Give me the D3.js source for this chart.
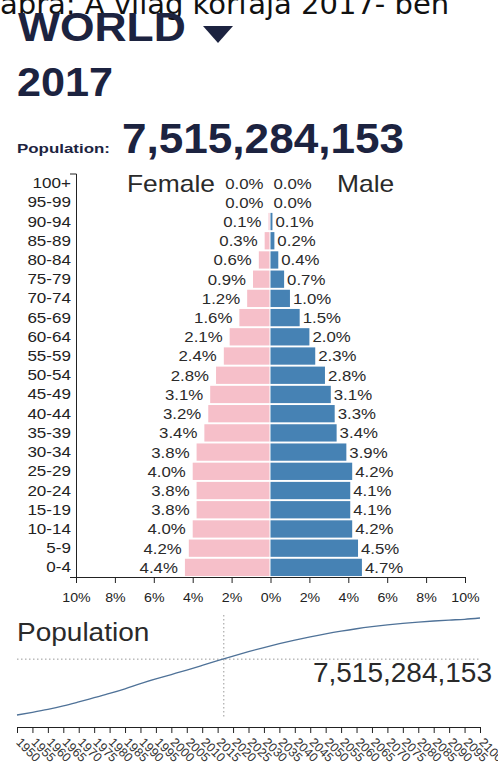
<!DOCTYPE html>
<html><head><meta charset="utf-8">
<script src="https://cdn.jsdelivr.net/npm/d3@7"></script>
<style>
html,body{margin:0;padding:0;background:#fff;overflow:hidden;}
svg{display:block;}
text{font-family:"Liberation Sans",Arial,Helvetica,sans-serif;}
</style></head>
<body>
<svg id="c" width="498" height="771"></svg>
<script>
// ---- data ----
const ageGroups = ["100+","95-99","90-94","85-89","80-84","75-79","70-74","65-69","60-64","55-59","50-54","45-49","40-44","35-39","30-34","25-29","20-24","15-19","10-14","5-9","0-4"];
const femalePct = [0.0,0.0,0.1,0.3,0.6,0.9,1.2,1.6,2.1,2.4,2.8,3.1,3.2,3.4,3.8,4.0,3.8,3.8,4.0,4.2,4.4];
const malePct   = [0.0,0.0,0.1,0.2,0.4,0.7,1.0,1.5,2.0,2.3,2.8,3.1,3.3,3.4,3.9,4.2,4.1,4.1,4.2,4.5,4.7];
const pctTicks = [-10,-8,-6,-4,-2,0,2,4,6,8,10];
const years = [1950,1955,1960,1965,1970,1975,1980,1985,1990,1995,2000,2005,2010,2015,2020,2025,2030,2035,2040,2045,2050,2055,2060,2065,2070,2075,2080,2085,2090,2095,2100];
const popMillions = [2536,2773,3035,3340,3700,4079,4458,4871,5331,5751,6145,6542,6958,7383,7795,8184,8551,8893,9210,9504,9772,10012,10224,10407,10569,10706,10821,10917,11000,11070,11184];
const currentYear = 2017;
const currentPop = 7515284153;
const regionName = "WORLD";
const caption = "ábra: A világ korfája 2017- ben";

const navy = "#1c2340", txt = "#2a2a2a";
const svg = d3.select("#c");

function fit(sel, k){
  sel.each(function(){
    const w = this.getComputedTextLength();
    d3.select(this).attr("textLength", w*k).attr("lengthAdjust","spacingAndGlyphs");
  });
  return sel;
}

// caption (cut at top)
svg.append("text").attr("x",0).attr("y",13.5)
  .style("font-family","'DejaVu Sans',sans-serif").style("font-size","29px").attr("fill","#111")
  .text(caption);

// title
const wt = svg.append("text").attr("x",18).attr("y",41)
  .style("font-size","40px").style("font-weight","bold").attr("fill",navy).text(regionName);
fit(wt, 1.11);
svg.append("path").attr("d","M203,26 L233,26 L218,43 Z").attr("fill",navy);

const yt = svg.append("text").attr("x",17).attr("y",96)
  .style("font-size","40px").style("font-weight","bold").attr("fill",navy).text(String(currentYear));
fit(yt, 1.08);

const pl = svg.append("text").attr("x",17).attr("y",153)
  .style("font-size","13px").style("font-weight","bold").attr("fill",navy).text("Population:");
fit(pl, 1.3);
const bn = svg.append("text").attr("x",122).attr("y",152.5)
  .style("font-size","42px").style("font-weight","bold").attr("fill",navy).text(d3.format(",")(currentPop));
fit(bn, 1.05);

// ---- pyramid ----
const x = d3.scaleLinear().domain([-10,10]).range([76,465]);
const y = d3.scaleBand().domain(ageGroups).range([173.5,577]).paddingInner(0.1).paddingOuter(0.05);
const fmt = d3.format(".1f");

const g = svg.append("g");
g.selectAll("rect.f").data(ageGroups).join("rect").attr("class","f")
  .attr("x",(d,i)=>x(-femalePct[i])).attr("width",(d,i)=>Math.max(0,x(0)-1-x(-femalePct[i])))
  .attr("y",d=>y(d)).attr("height",y.bandwidth()).attr("fill","#f6bfc9");
g.selectAll("rect.m").data(ageGroups).join("rect").attr("class","m")
  .attr("x",x(0)).attr("width",(d,i)=>x(malePct[i])-x(0))
  .attr("y",d=>y(d)).attr("height",y.bandwidth()).attr("fill","#4682b4");

const fl = g.selectAll("text.fl").data(ageGroups).join("text").attr("class","fl")
  .attr("x",(d,i)=>x(-femalePct[i])-7).attr("y",d=>y(d)+y.bandwidth()/2).attr("dy","0.36em")
  .attr("text-anchor","end").style("font-size","15px").attr("fill",txt)
  .text((d,i)=>fmt(femalePct[i])+"%");
fit(fl,1.12);
const ml = g.selectAll("text.ml").data(ageGroups).join("text").attr("class","ml")
  .attr("x",(d,i)=>x(malePct[i])+3).attr("y",d=>y(d)+y.bandwidth()/2).attr("dy","0.36em")
  .attr("text-anchor","start").style("font-size","15px").attr("fill",txt)
  .text((d,i)=>fmt(malePct[i])+"%");
fit(ml,1.12);

const ft = svg.append("text").attr("x",215).attr("y",192).attr("text-anchor","end")
  .style("font-size","24px").attr("fill",txt).text("Female");
fit(ft,1.1);
const mt = svg.append("text").attr("x",337).attr("y",192)
  .style("font-size","24px").attr("fill",txt).text("Male");
fit(mt,1.1);

const ya = svg.append("g").attr("transform","translate(76,0)")
  .call(d3.axisLeft(y).tickSize(0).tickSizeOuter(6).tickPadding(5));
ya.select(".domain").attr("stroke","#222");
ya.selectAll("text").style("font-size","15.5px").style("font-family","'Liberation Sans',Arial,sans-serif").attr("fill","#222");
fit(ya.selectAll("text"),1.1);

const xa = svg.append("g").attr("transform","translate(0,577)")
  .call(d3.axisBottom(x).tickValues(pctTicks).tickSize(6).tickPadding(9).tickFormat(d=>Math.abs(d)+"%"));
xa.selectAll("line,.domain").attr("stroke","#222");
xa.selectAll("text").style("font-size","13.5px").style("font-family","'Liberation Sans',Arial,sans-serif").attr("fill","#222");
fit(xa.selectAll("text"),1.05);

// ---- population line ----
const px = d3.scaleLinear().domain([years[0],years[years.length-1]]).range([17,480]);
const py = d3.scaleLinear().domain([d3.min(popMillions),d3.max(popMillions)]).range([715,618]);

svg.append("line").attr("x1",px(currentYear)).attr("x2",px(currentYear)).attr("y1",615).attr("y2",717)
  .attr("stroke","#999").attr("stroke-dasharray","1.5,2.5");
svg.append("line").attr("x1",17).attr("x2",480).attr("y1",py(currentPop/1e6)).attr("y2",py(currentPop/1e6))
  .attr("stroke","#999").attr("stroke-dasharray","1.5,2.5");

svg.append("path").datum(years)
  .attr("d",d3.line().x(d=>px(d)).y((d,i)=>py(popMillions[i])).curve(d3.curveMonotoneX))
  .attr("fill","none").attr("stroke","#4f7298").attr("stroke-width",1.3);

const pt = svg.append("text").attr("x",17).attr("y",641)
  .style("font-size","25px").attr("fill",txt).text("Population");
fit(pt,1.12);
const pv = svg.append("text").attr("x",492).attr("y",682).attr("text-anchor","end")
  .style("font-size","28px").attr("fill",txt).text(d3.format(",")(currentPop));

const ba = svg.append("g").attr("transform","translate(0,727)")
  .call(d3.axisBottom(px).tickValues(years).tickSize(6).tickSizeOuter(6).tickFormat(d3.format("d")));
ba.selectAll("line,.domain").attr("stroke","#222");
ba.selectAll("text").style("font-size","12.5px").style("font-family","'Liberation Sans',Arial,sans-serif").attr("fill","#333")
  .attr("text-anchor","start").attr("dy","0.35em").attr("y",0)
  .attr("transform","translate(1,13) rotate(45)");
</script>
</body></html>
